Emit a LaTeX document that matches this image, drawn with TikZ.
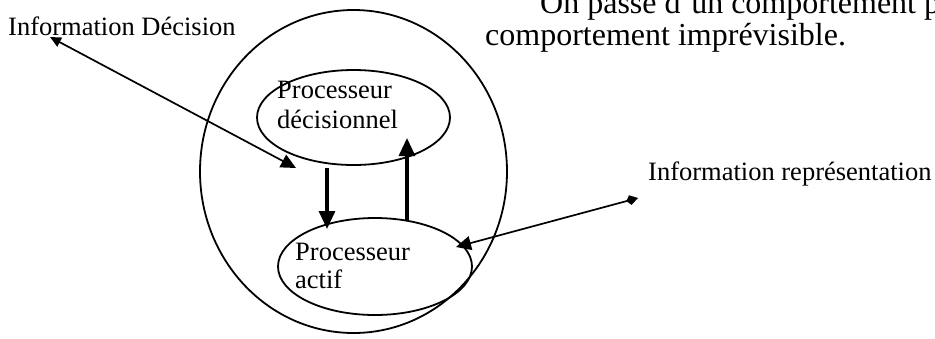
\documentclass[tikz,border=0pt]{standalone}
\usepackage{fontspec}
\setmainfont{Liberation Serif}
\usetikzlibrary{shapes.geometric,arrows.meta}
\tikzset{
  oval/.style={draw, ellipse, inner sep=0pt, line width=1.8pt},
  lbl/.style={anchor=base west, inner sep=0pt, font=\fontsize{26.5}{30}\selectfont},
  toptext/.style={anchor=base west, inner sep=0pt, font=\fontsize{32}{32}\selectfont},
  thinarrow/.style={line width=1.7pt},
  thickarrow/.style={line width=3.2pt, -{Triangle[length=18pt,width=16pt]}}
}
\begin{document}
\begin{tikzpicture}[x=1pt,y=-1pt]
\useasboundingbox (0,0) rectangle (935,338);
\clip (0,0) rectangle (935,338);
% top text
\node[toptext] (t1) at (540,13) {On passe d’un comportement p};
\node[toptext] (t2) at (485,45) {comportement imprévisible.};
% ellipses
\node[oval, minimum width=307pt, minimum height=323pt] (outer) at (353.5,171.5) {};
\node[oval, minimum width=193pt, minimum height=95pt] (dec) at (353.5,117.5) {};
\node[oval, minimum width=194pt, minimum height=97pt] (act) at (375,266.5) {};
% texts
\node[lbl] (d1) at (277,98) {Processeur};
\node[lbl] (d2) at (277,128) {décisionnel};
\node[lbl] (a1) at (295,260) {Processeur};
\node[lbl] (a2) at (295,288) {actif};
\node[lbl] (infd) at (8,35) {Information Décision};
\node[lbl] (infr) at (648,180) {Information représentation};
% connector end points
\coordinate (pd) at (50,37);
\coordinate (qd) at (296,168);
\coordinate (pr) at (638,198);
\coordinate (qr) at (456,247);
\coordinate (down1) at (327,168);
\coordinate (down2) at (327,229);
\coordinate (up1) at (407,221);
\coordinate (up2) at (407,138);
% connectors
\draw[thinarrow, {Triangle[length=11pt,width=10pt]}-{Triangle[length=15pt,width=14pt]}] (pd) -- (qd);
\draw[thinarrow, {Kite[length=12pt,width=10pt,inset=4pt]}-{Triangle[length=15pt,width=14pt]}] (pr) -- (qr);
\draw[thickarrow] (down1) -- (down2);
\draw[thickarrow] (up1) -- (up2);
\end{tikzpicture}
\end{document}
